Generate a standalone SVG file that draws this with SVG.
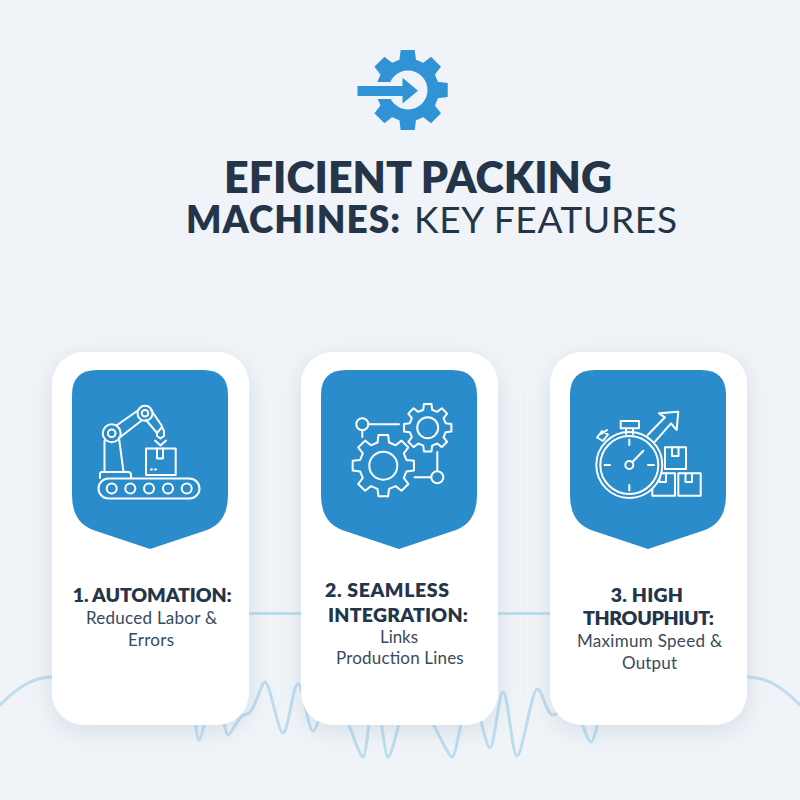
<svg xmlns="http://www.w3.org/2000/svg" width="800" height="800" viewBox="0 0 800 800">
<style>
.t{font-family:Lato,"Liberation Sans",sans-serif;fill:#243549}
.b{font-weight:700}
.h3{font-weight:800;font-size:19.5px}
.p{font-size:17px;fill:#3a4a5c}
.i{fill:none;stroke:#fff;stroke-width:2;stroke-linecap:round;stroke-linejoin:round}
.w{fill:none;stroke:#bcdcef;stroke-width:3;stroke-linecap:round;stroke-linejoin:round}
.card{fill:#fff;filter:url(#sh)}
.shield{fill:#2b8ccb}
#gear polygon{vector-effect:non-scaling-stroke}
</style>
<defs>
<filter id="sh" x="-30%" y="-20%" width="160%" height="140%"><feDropShadow dx="0" dy="6" stdDeviation="12" flood-color="#8ea3bb" flood-opacity=".28"/></filter>
<path id="shieldp" d="M97 370H203Q228 370 228 395V495Q228 522 207 530L150 549L93 530Q72 522 72 495V395Q72 370 97 370Z"/>
<polygon id="gearp" points="74.7,-18.6 98.8,-15.6 98.8,15.6 74.7,18.6 66,39.7 80.9,58.8 58.8,80.9 39.7,66 18.6,74.7 15.6,98.8 -15.6,98.8 -18.6,74.7 -39.7,66 -58.8,80.9 -80.9,58.8 -66,39.7 -74.7,18.6 -98.8,15.6 -98.8,-15.6 -74.7,-18.6 -66,-39.7 -80.9,-58.8 -58.8,-80.9 -39.7,-66 -18.6,-74.7 -15.6,-98.8 15.6,-98.8 18.6,-74.7 39.7,-66 58.8,-80.9 80.9,-58.8 66,-39.7" vector-effect="non-scaling-stroke"/>
<g id="tape"><path d="M-3 0V9L0 7L3 9V0" fill="none" stroke="#fff" stroke-width="1.7"/></g>
</defs>
<rect width="800" height="800" fill="#f0f4f8"/>
<g id="connectors" class="w">
<path class="w" d="M0 705C18 687 33 677 53 677"/>
<path class="w" d="M747 677C767 677 782 687 800 705"/>
<path class="w" d="M245 613.5H305"/>
<path class="w" d="M494 613.5H554"/>
<path class="w" d="M190 690C193 690 196 740 199 740C202 740 211 690 214 690C218 690 225 735 228 735C232 735 238 714 247 714C254 714 261 682 265 682C270 682 278 733 283 733C288 733 293 684 298 684C303 684 308 731 313 731C318 731 325 690 330 690C340 690 358 757 363 757C367 757 371 690 375 690C379 690 384 757 388 757C393 757 405 690 410 690C420 690 447 757 452 757C457 757 465 690 470 690C476 690 485 748 490 748C494 748 499 692 503 692C508 692 512 756 517 756C522 756 532 689 537 689C543 689 546 715 553 715C560 715 565 700 570 700C577 700 586 742 591 742C595 742 605 690 610 690"/>
</g>
<g id="logo" fill="#2f93d6">
<use href="#gearp" transform="translate(407.7 90) scale(.395)" stroke="#2f93d6" stroke-width="2"/>
<rect x="366" y="82" width="30" height="17" fill="#f0f4f8"/>
<circle cx="408" cy="90" r="19.5" fill="#f0f4f8"/>
<path d="M357.5 86H402.5V77.7L418 90.7L402.5 103.5V96H357.5Z"/>
</g>
<g id="title" class="t b">
<text x="224" y="192.5" font-size="43" textLength="388" lengthAdjust="spacing" style="font-weight:800">EFICIENT PACKING</text>
<text x="186" y="232.5" font-size="37" textLength="214" lengthAdjust="spacing" style="font-weight:800">MACHINES:</text>
<text x="414" y="232.5" font-size="37" textLength="263" lengthAdjust="spacing" style="font-weight:400">KEY FEATURES</text>
</g>
<g id="node1">
<rect class="card" x="52" y="352" width="197" height="373" rx="32"/>
<use href="#shieldp" class="shield"/>
<g class="i">
<rect x="98.5" y="478.5" width="101" height="20" rx="10"/>
<circle cx="111.7" cy="488.5" r="5"/><circle cx="130.3" cy="488.5" r="5"/><circle cx="149" cy="488.5" r="5"/><circle cx="168" cy="488.5" r="5"/><circle cx="186.7" cy="488.5" r="5"/>
<path d="M100 478V474Q100 472 102 472H128Q131 472 131 475V478"/>
<path d="M104.5 441V472M119 438L123.5 472"/>
<circle cx="111.7" cy="433.3" r="9"/><circle cx="111.7" cy="433.3" r="3.8"/>
<circle cx="145" cy="413.3" r="7.5"/><circle cx="145" cy="413.3" r="3.3"/>
<path d="M116.5 425.5L138.5 410M119 438L141 421"/>
<path d="M151 410L162 426M146 420L157 433"/>
<path d="M157 433L162 427L164 431V436L160.5 438.5L157 436Z"/>
<path d="M155 440.5L160.5 445.5L166 440.5"/>
<rect x="146" y="448.5" width="29.7" height="26.5"/>
<path d="M157 448.5V458.5H163V448.5"/>
<path d="M151 469.5H152M155 469.5H156"/>
</g>
<text class="t h3" x="72.7" y="601.5" textLength="159" lengthAdjust="spacing">1. AUTOMATION:</text>
<text class="t p" x="86" y="624" textLength="131" lengthAdjust="spacing">Reduced Labor &amp;</text>
<text class="t p" x="128" y="645.5" textLength="46" lengthAdjust="spacing">Errors</text>
</g>
<g id="node2">
<rect class="card" x="301" y="352" width="197" height="373" rx="32"/>
<use href="#shieldp" class="shield" x="249"/>
<g class="i">
<use href="#gearp" transform="translate(383.3 465.7) scale(.31)"/>
<circle cx="383.3" cy="465.7" r="14"/>
<use href="#gearp" transform="translate(427.7 427.7) scale(.24)"/>
<circle cx="427.7" cy="427.7" r="10.5"/>
<circle cx="362.3" cy="424.3" r="6"/>
<path d="M368.5 424.3H399M362.3 430.5V437"/>
<circle cx="437.3" cy="477.3" r="6"/>
<path d="M431 477.3H414.5M437.3 471V452"/>
</g>
<text class="t h3" x="325" y="597" textLength="124" lengthAdjust="spacing">2. SEAMLESS</text>
<text class="t h3" x="328" y="621.5" textLength="140" lengthAdjust="spacing">INTEGRATION:</text>
<text class="t p" x="380" y="643" textLength="38" lengthAdjust="spacing">Links</text>
<text class="t p" x="336" y="664" textLength="127.7" lengthAdjust="spacing">Production Lines</text>
</g>
<g id="node3">
<rect class="card" x="550" y="352" width="197" height="373" rx="32"/>
<use href="#shieldp" class="shield" x="498"/>
<g class="i">
<path d="M647.7 435L665 417.3L659 413.3L678.3 411.7L676.7 430L671 423.3L655 441.7"/>
<rect x="665" y="447.3" width="21" height="21.7"/>
<path d="M672 447.3V456H678.5V447.3"/>
<rect x="678.3" y="473.3" width="22.4" height="22.4"/>
<path d="M685.5 473.3V482H692V473.3"/>
<rect x="652.3" y="473.3" width="22.7" height="22.4"/>
<path d="M659.5 473.3V482H666V473.3"/>
<circle cx="629.3" cy="465" r="33" fill="#2b8ccb"/>
<circle cx="629.3" cy="465" r="29"/>
<circle cx="629.3" cy="465" r="4"/>
<path d="M632.5 462L643.3 450.7M629.3 439.5V445M629.3 485V490.5M604.5 465H610M648 465H654"/>
<path d="M620.7 421H639V428.3H620.7ZM626 428.5V434M633 428.5V434"/>
<path d="M601 434L607 430M597 437.5L602 431L608 434.5L603 441Z"/>
</g>
<text class="t h3" x="610.7" y="601.5" textLength="72.3" lengthAdjust="spacing">3. HIGH</text>
<text class="t h3" x="583" y="625" textLength="131" lengthAdjust="spacing">THROUPHIUT:</text>
<text class="t p" x="577" y="647" textLength="145" lengthAdjust="spacing">Maximum Speed &amp;</text>
<text class="t p" x="622" y="668.5" textLength="55" lengthAdjust="spacing">Output</text>
</g>
</svg>
